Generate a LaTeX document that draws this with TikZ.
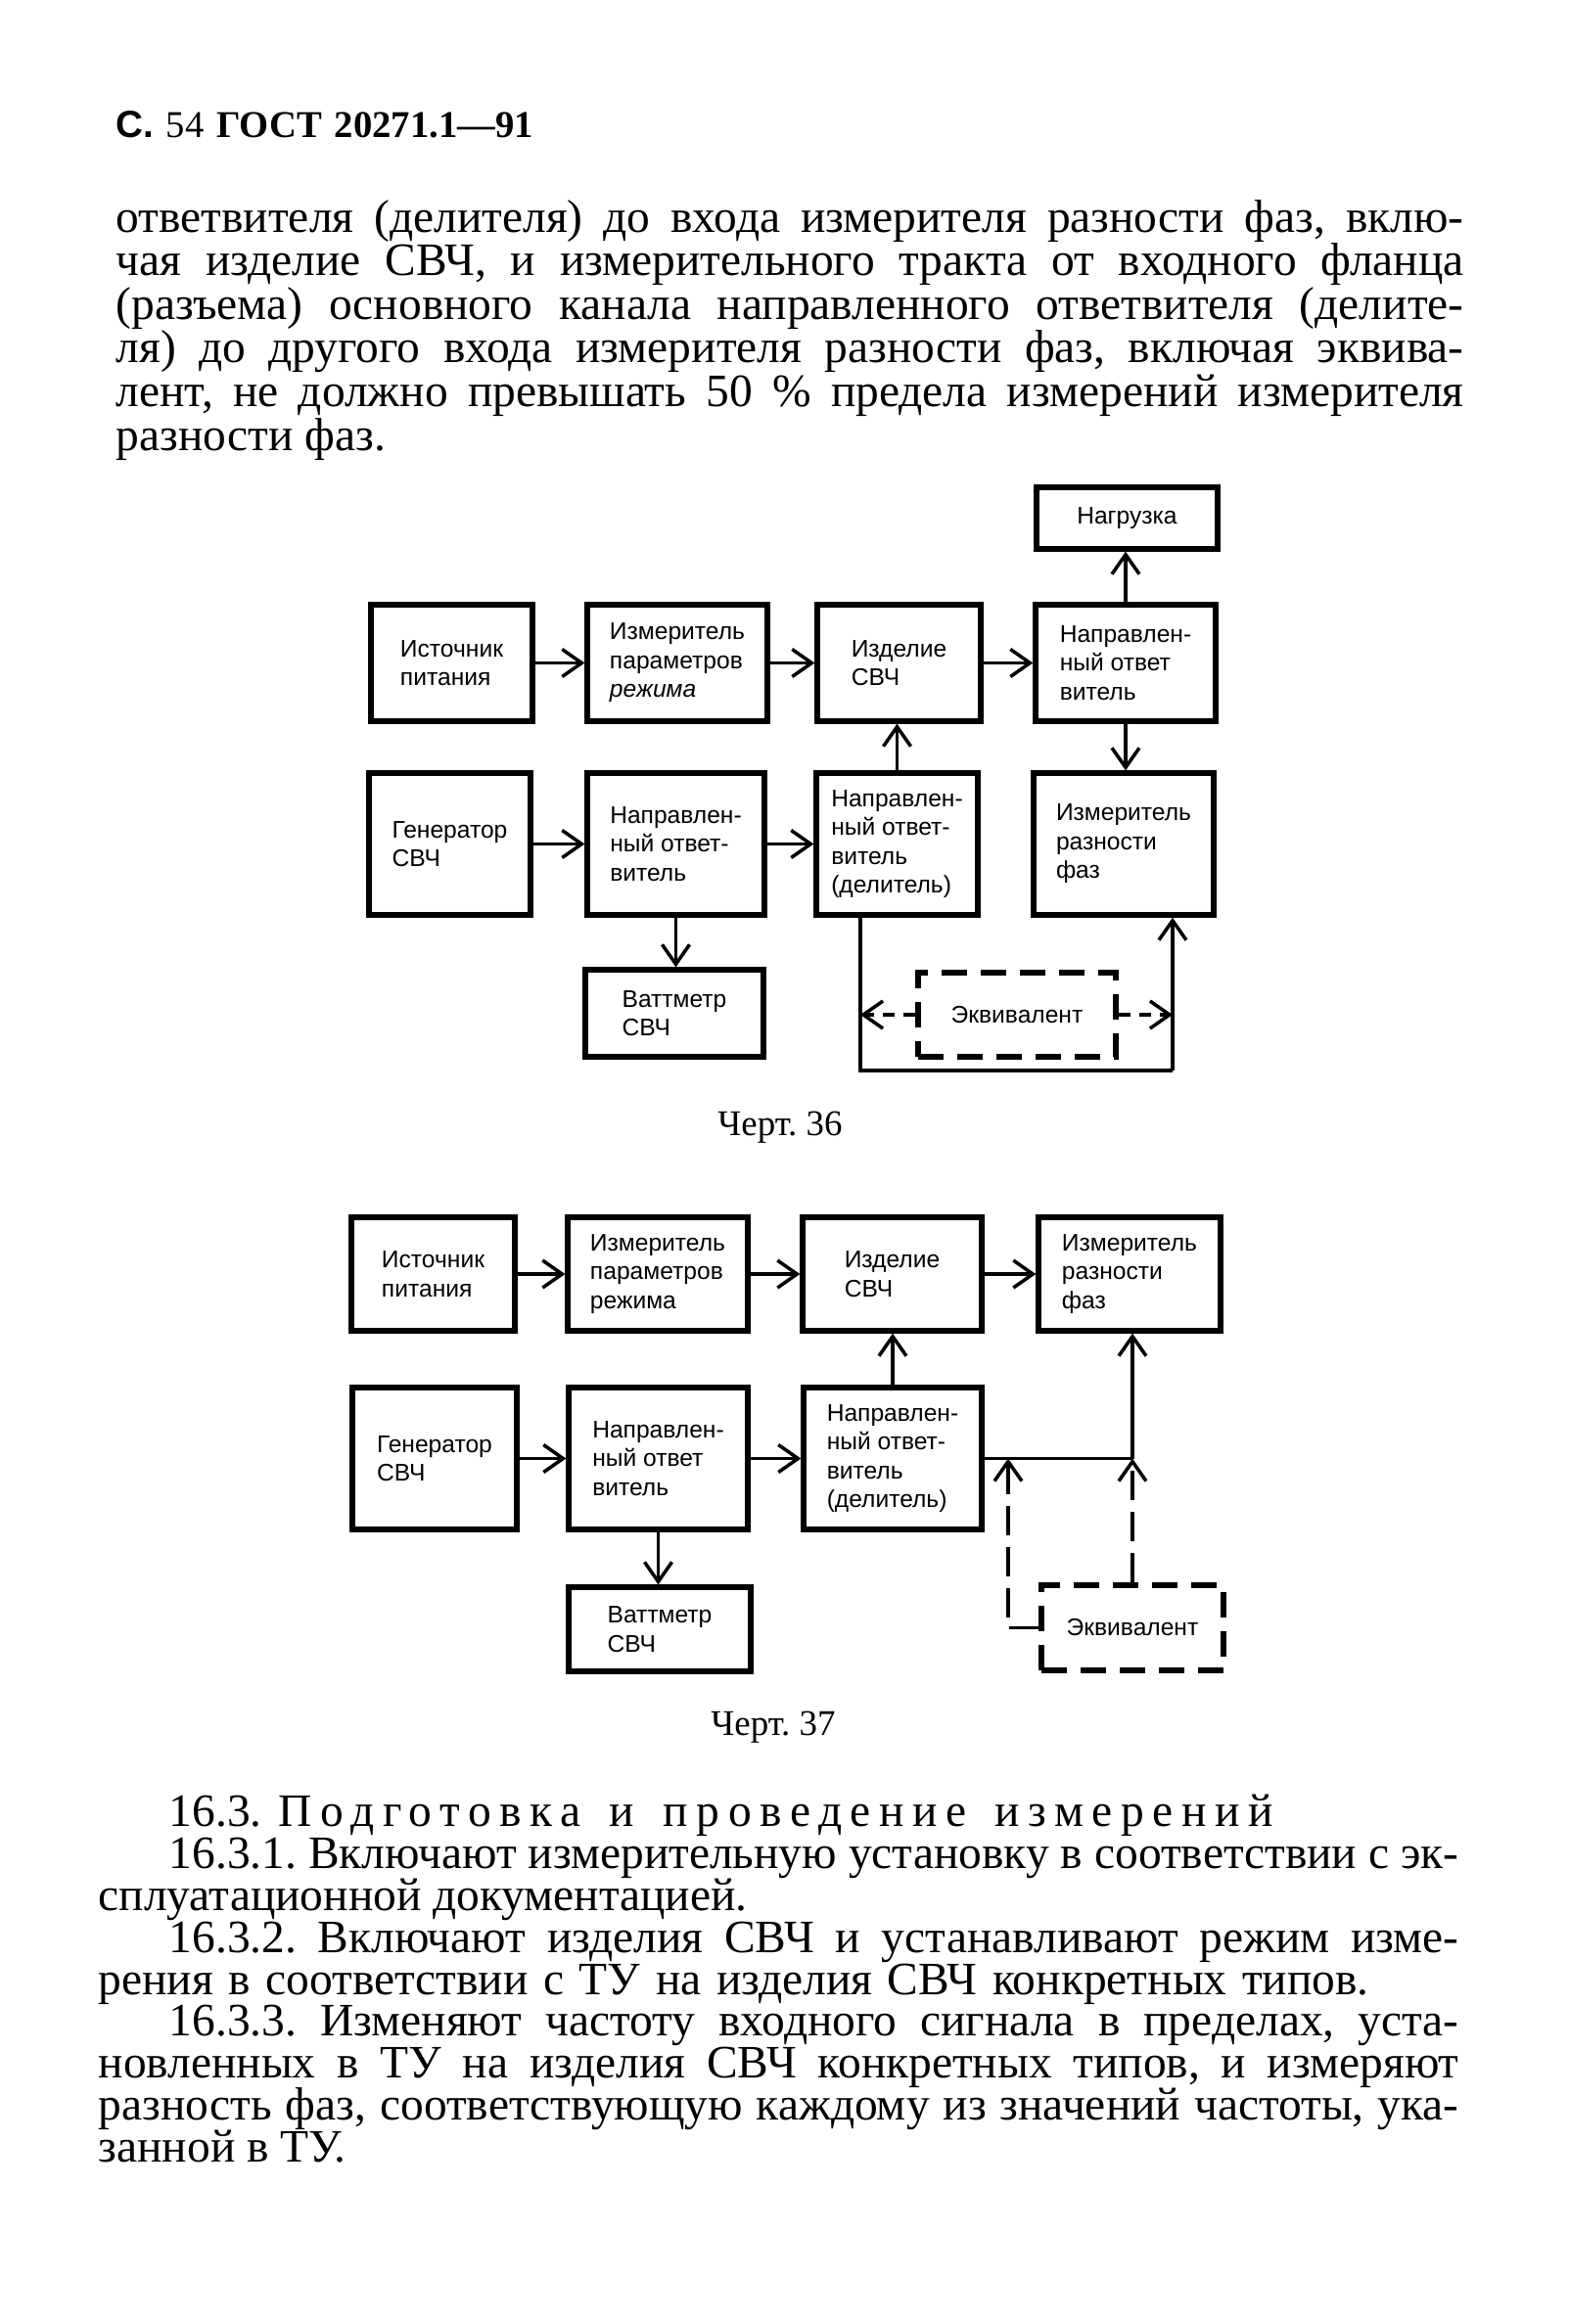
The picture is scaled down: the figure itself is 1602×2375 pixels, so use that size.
\documentclass[tikz,border=0pt]{standalone}
\usepackage{fontspec}
\setmainfont{Liberation Serif}
\newfontfamily\diagfont{Liberation Sans}
\usetikzlibrary{arrows.meta}
\frenchspacing

\tikzset{
  blk/.style={draw, line width=1.5pt, inner sep=0pt, align=left,
    font=\diagfont\fontsize{7}{8.4}\selectfont},
  ekvblk/.style={blk, dash pattern=on 2.6mm off 1.4mm},
  con/.style={line width=1pt},
  arr/.style={con, -{Straight Barb[length=2mm,width=2.8mm]}},
  dsh/.style={arr, dash pattern=on 1.2mm off 0.9mm},
  dshl/.style={arr, dash pattern=on 3mm off 1.2mm},
  txt/.style={anchor=base west, inner sep=0pt, font=\fontsize{13.5}{16}\selectfont},
  chcap/.style={anchor=base, inner sep=0pt, font=\fontsize{10.5}{12}\selectfont},
}

\begin{document}
\begin{tikzpicture}[x=0.1mm,y=-0.1mm]
    \useasboundingbox (0,0) rectangle (1602,2375);
    %
    \node[txt, font=\fontsize{11}{14}\selectfont] (hdr) at (118,140)
      {\makebox[42.6mm][s]{{\diagfont\bfseries С.} 54 \textbf{ГОСТ 20271.1—91}}};
    %
    \node[txt] (p1) at (118,237) {\makebox[137.7mm][s]{ответвителя (делителя) до входа измерителя разности фаз, вклю-}};
    \node[txt] (p2) at (118,281) {\makebox[137.7mm][s]{чая изделие СВЧ, и измерительного тракта от входного фланца}};
    \node[txt] (p3) at (118,326) {\makebox[137.7mm][s]{(разъема) основного канала направленного ответвителя (делите-}};
    \node[txt] (p4) at (118,370) {\makebox[137.7mm][s]{ля) до другого входа измерителя разности фаз, включая эквива-}};
    \node[txt] (p5) at (118,415) {\makebox[137.7mm][s]{лент, не должно превышать 50~\% предела измерений измерителя}};
    \node[txt] (p6) at (118,460) {разности фаз.};
    %
    % Черт. 36
    \node[blk, minimum width=18.5mm, minimum height=6.3mm] (nagr) at (1151.5,529.5) {Нагрузка};
    %
    \node[blk, minimum width=16.5mm, minimum height=11.9mm] (ist1) at (461.5,677.5) {Источник\\питания};
    \node[blk, minimum width=18.4mm, minimum height=11.9mm] (izmp1) at (692,677.5) {Измеритель\\параметров\\\textit{режима}};
    \node[blk, minimum width=16.7mm, minimum height=11.9mm] (izd1) at (918.5,677.5) {Изделие\\СВЧ};
    \node[blk, minimum width=18.4mm, minimum height=11.9mm] (nao1) at (1150,677.5) {Направлен-\\ный ответ\\витель};
    %
    \node[blk, minimum width=16.5mm, minimum height=14.5mm] (gen1) at (459.5,862.5) {Генератор\\СВЧ};
    \node[blk, minimum width=18.1mm, minimum height=14.5mm] (nao2) at (690.5,862.5) {Направлен-\\ный ответ-\\витель};
    \node[blk, minimum width=16.5mm, minimum height=14.5mm] (del1) at (916.5,862.5) {Направлен-\\ный ответ-\\витель\\ (делитель)};
    \node[blk, minimum width=18.4mm, minimum height=14.5mm] (izmf1) at (1148,862.5) {Измеритель\\разности\\фаз};
    %
    \node[blk, minimum width=18.2mm, minimum height=8.9mm] (watt1) at (689,1035.5) {Ваттметр\\СВЧ};
    \node[ekvblk, minimum width=20.2mm, minimum height=8.6mm] (ekv1) at (1039,1037) {Эквивалент};
    %
    \draw[arr] (ist1.east) -- (izmp1.west);
    \draw[arr] (izmp1.east) -- (izd1.west);
    \draw[arr] (izd1.east) -- (nao1.west);
    \draw[arr] (nao1.north) -- (nao1.north |- nagr.south);
    \draw[arr] (nao1.south) -- (nao1.south |- izmf1.north);
    \draw[arr] (gen1.east) -- (nao2.west);
    \draw[arr] (nao2.east) -- (del1.west);
    \draw[arr] (del1.north) -- (del1.north |- izd1.south);
    \draw[arr] (nao2.south) -- (nao2.south |- watt1.north);
    %
    \coordinate (lpL) at (879,1094);
    \coordinate (lpR) at (1198,1094);
    \draw[con] (del1.south -| lpL) -- (lpL) -- (lpR);
    \draw[arr] (lpR) -- (lpR |- izmf1.south);
    \draw[dsh] (ekv1.west) -- (ekv1.west -| lpL);
    \draw[dsh] (ekv1.east) -- (ekv1.east -| lpR);
    %
    \node[chcap] (ch36) at (797,1160) {Черт. 36};
    %
    % Черт. 37
    \node[blk, minimum width=16.7mm, minimum height=11.6mm] (ist2) at (442.5,1302) {Источник\\питания};
    \node[blk, minimum width=18.4mm, minimum height=11.6mm] (izmp2) at (672,1302) {Измеритель\\параметров\\режима};
    \node[blk, minimum width=18.3mm, minimum height=11.6mm] (izd2) at (911.5,1302) {Изделие\\СВЧ};
    \node[blk, minimum width=18.6mm, minimum height=11.6mm] (izmf2) at (1154,1302) {Измеритель\\разности\\фаз};
    %
    \node[blk, minimum width=16.8mm, minimum height=14.5mm] (gen2) at (444,1490.5) {Генератор\\СВЧ};
    \node[blk, minimum width=18.3mm, minimum height=14.5mm] (nao3) at (672.5,1490.5) {Направлен-\\ный ответ\\витель};
    \node[blk, minimum width=18.2mm, minimum height=14.5mm] (del2) at (912,1490.5) {Направлен-\\ный ответ-\\витель\\ (делитель)};
    %
    \node[blk, minimum width=18.6mm, minimum height=8.6mm] (watt2) at (674,1665) {Ваттметр\\СВЧ};
    \node[ekvblk, minimum width=18.6mm, minimum height=8.7mm] (ekv2) at (1157,1663.5) {Эквивалент};
    %
    \draw[arr] (ist2.east) -- (izmp2.west);
    \draw[arr] (izmp2.east) -- (izd2.west);
    \draw[arr] (izd2.east) -- (izmf2.west);
    \draw[arr] (gen2.east) -- (nao3.west);
    \draw[arr] (nao3.east) -- (del2.west);
    \draw[arr] (del2.north) -- (del2.north |- izd2.south);
    \draw[arr] (nao3.south) -- (nao3.south |- watt2.north);
    %
    \coordinate (brL) at (1030,1490.5);
    \coordinate (brR) at (1157,1490.5);
    \draw[con] (del2.east) -- (brR);
    \draw[arr] (brR) -- (brR |- izmf2.south);
    \draw[dshl] (ekv2.west) -- (ekv2.west -| brL) -- (brL);
    \draw[dshl] (ekv2.north) -- (brR);
    %
    \node[chcap] (ch37) at (790,1773) {Черт. 37};
    %
    \node[txt] (s1) at (172,1866) {\makebox[112.8mm][s]{16.3. {\addfontfeature{LetterSpace=18}Подготовка и проведение измерений}}};
    \node[txt] (s2) at (172,1909) {\makebox[131.8mm][s]{16.3.1. Включают измерительную установку в соответствии с эк-}};
    \node[txt] (s3) at (100,1952) {сплуатационной документацией.};
    \node[txt] (s4) at (172,1995) {\makebox[131.8mm][s]{16.3.2. Включают изделия СВЧ и устанавливают режим изме-}};
    \node[txt] (s5) at (100,2038) {\makebox[129.8mm][s]{рения в соответствии с ТУ на изделия СВЧ конкретных типов.}};
    \node[txt] (s6) at (172,2080) {\makebox[131.8mm][s]{16.3.3. Изменяют частоту входного сигнала в пределах, уста-}};
    \node[txt] (s7) at (100,2123) {\makebox[139mm][s]{новленных в ТУ на изделия СВЧ конкретных типов, и измеряют}};
    \node[txt] (s8) at (100,2166) {\makebox[139mm][s]{разность фаз, соответствующую каждому из значений частоты, ука-}};
    \node[txt] (s9) at (100,2209) {занной в ТУ.};
    %
\end{tikzpicture}
\end{document}
